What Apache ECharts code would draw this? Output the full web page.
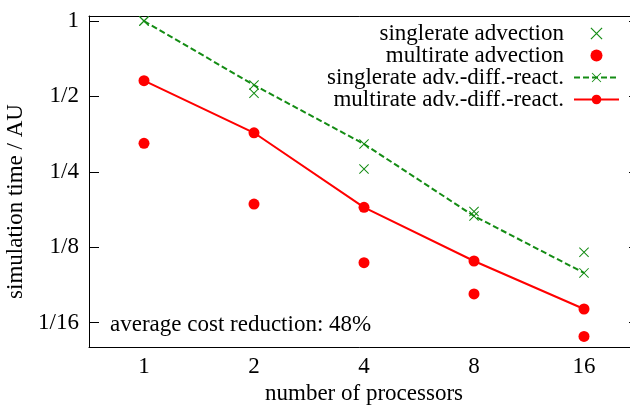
<!DOCTYPE html>
<html>
<head>
<meta charset="utf-8">
<script src="https://cdn.jsdelivr.net/npm/echarts@6/dist/echarts.min.js"></script>
<style>
  html, body { margin: 0; padding: 0; background: #fff; }
  #chart { width: 630px; height: 405px; }
</style>
</head>
<body>
<div id="chart"></div>
<script>
const processors = ['1', '2', '4', '8', '16']
const singleAdv = [1.0, 0.515, 0.2565, 0.1737, 0.1195]
const multiAdv = [0.325, 0.186, 0.1085, 0.0814, 0.0551]
const singleADR = [1.0, 0.555, 0.323, 0.1666, 0.0988]
const multiADR = [0.578, 0.358, 0.1804, 0.1102, 0.0709]
const NAMES = [
  'singlerate advection',
  'multirate advection',
  'singlerate adv.-diff.-react.',
  'multirate adv.-diff.-react.'
]
const GREEN = '#148c14'
const RED = '#ff0000'
const FONT = 'Liberation Serif'
const FS = 23
const CROSS = 'path://M0,0.7L0.7,0L10,9.3L9.3,10Z M9.3,0L10,0.7L0.7,10L0,9.3Z'

// 1, 1/2, 1/4 ... only on powers of two
const powLabel = (v) => {
  const k = -Math.log2(v)
  if (Math.abs(k - Math.round(k)) > 1e-6) return ''
  return Math.round(k) === 0 ? '1' : '1/' + Math.pow(2, Math.round(k))
}

const chart = echarts.init(document.getElementById('chart'))

const xBase = {
  type: 'category',
  data: processors,
  boundaryGap: true,
  axisLine: { lineStyle: { color: '#000', width: 1 } },
  axisTick: { inside: true, alignWithLabel: true, length: 10, lineStyle: { color: '#000' } },
  splitLine: { show: false }
}
const yBase = {
  type: 'log',
  logBase: 2,
  min: 0.05,
  max: 1.047,
  axisLine: { show: true, lineStyle: { color: '#000', width: 1 } },
  axisTick: { show: true, inside: true, length: 10, lineStyle: { color: '#000' } },
  splitLine: { show: false },
  minorTick: { show: false }
}

const option = {
  animation: false,
  grid: { left: 89, right: -9, top: 16, bottom: 58, outerBoundsMode: 'none', containLabel: false },
  textStyle: { fontFamily: FONT },
  legend: {
    data: NAMES,
    orient: 'vertical',
    align: 'right',
    right: 10,
    top: 22,
    padding: 0,
    itemWidth: 45,
    itemHeight: 12,
    itemGap: -1,
    formatter: '{a|{name}}',
    textStyle: {
      fontFamily: FONT,
      fontSize: FS,
      color: '#000',
      rich: { a: { width: 260, align: 'right', fontSize: FS, lineHeight: 20, fontFamily: FONT, padding: [0, 5, 0, 0] } }
    }
  },
  xAxis: [
    Object.assign({}, xBase, {
      position: 'bottom',
      name: 'number of processors',
      nameLocation: 'middle',
      nameGap: 31,
      nameTextStyle: { fontFamily: FONT, fontSize: FS, color: '#000' },
      axisLabel: { margin: 8, fontFamily: FONT, fontSize: FS, color: '#000' }
    }),
    Object.assign({}, xBase, { position: 'top', axisLabel: { show: false } })
  ],
  yAxis: [
    Object.assign({}, yBase, {
      position: 'left',
      name: 'simulation time / AU',
      nameLocation: 'middle',
      nameGap: 47,
      nameTextStyle: { fontFamily: FONT, fontSize: FS, color: '#000', padding: [0, 40, 0, 0] },
      axisLabel: {
        margin: 10, fontFamily: FONT, fontSize: FS, color: '#000',
        showMinLabel: false, showMaxLabel: false, formatter: powLabel
      }
    }),
    Object.assign({}, yBase, {
      position: 'right',
      axisLine: { show: false },
      axisLabel: { show: false }
    })
  ],
  graphic: [{
    type: 'text',
    left: 110,
    top: 313,
    style: { text: 'average cost reduction: 48%', font: FS + 'px "Liberation Serif"', fill: '#000' }
  }],
  series: [
    {
      name: NAMES[0], type: 'scatter', data: singleAdv,
      symbol: CROSS, symbolSize: 10, itemStyle: { color: GREEN, opacity: 1 }
    },
    {
      name: NAMES[1], type: 'scatter', data: multiAdv,
      symbol: 'circle', symbolSize: 11, itemStyle: { color: RED, opacity: 1 }
    },
    {
      name: NAMES[2], type: 'line', data: singleADR,
      symbol: CROSS, symbolSize: 10, showAllSymbol: true,
      itemStyle: { color: GREEN },
      lineStyle: { color: GREEN, width: 2, type: [6, 3] }
    },
    {
      name: NAMES[3], type: 'line', data: multiADR,
      symbol: 'circle', symbolSize: 11, showAllSymbol: true,
      itemStyle: { color: RED },
      lineStyle: { color: RED, width: 2 }
    }
  ]
}

chart.setOption(option)
</script>
</body>
</html>
